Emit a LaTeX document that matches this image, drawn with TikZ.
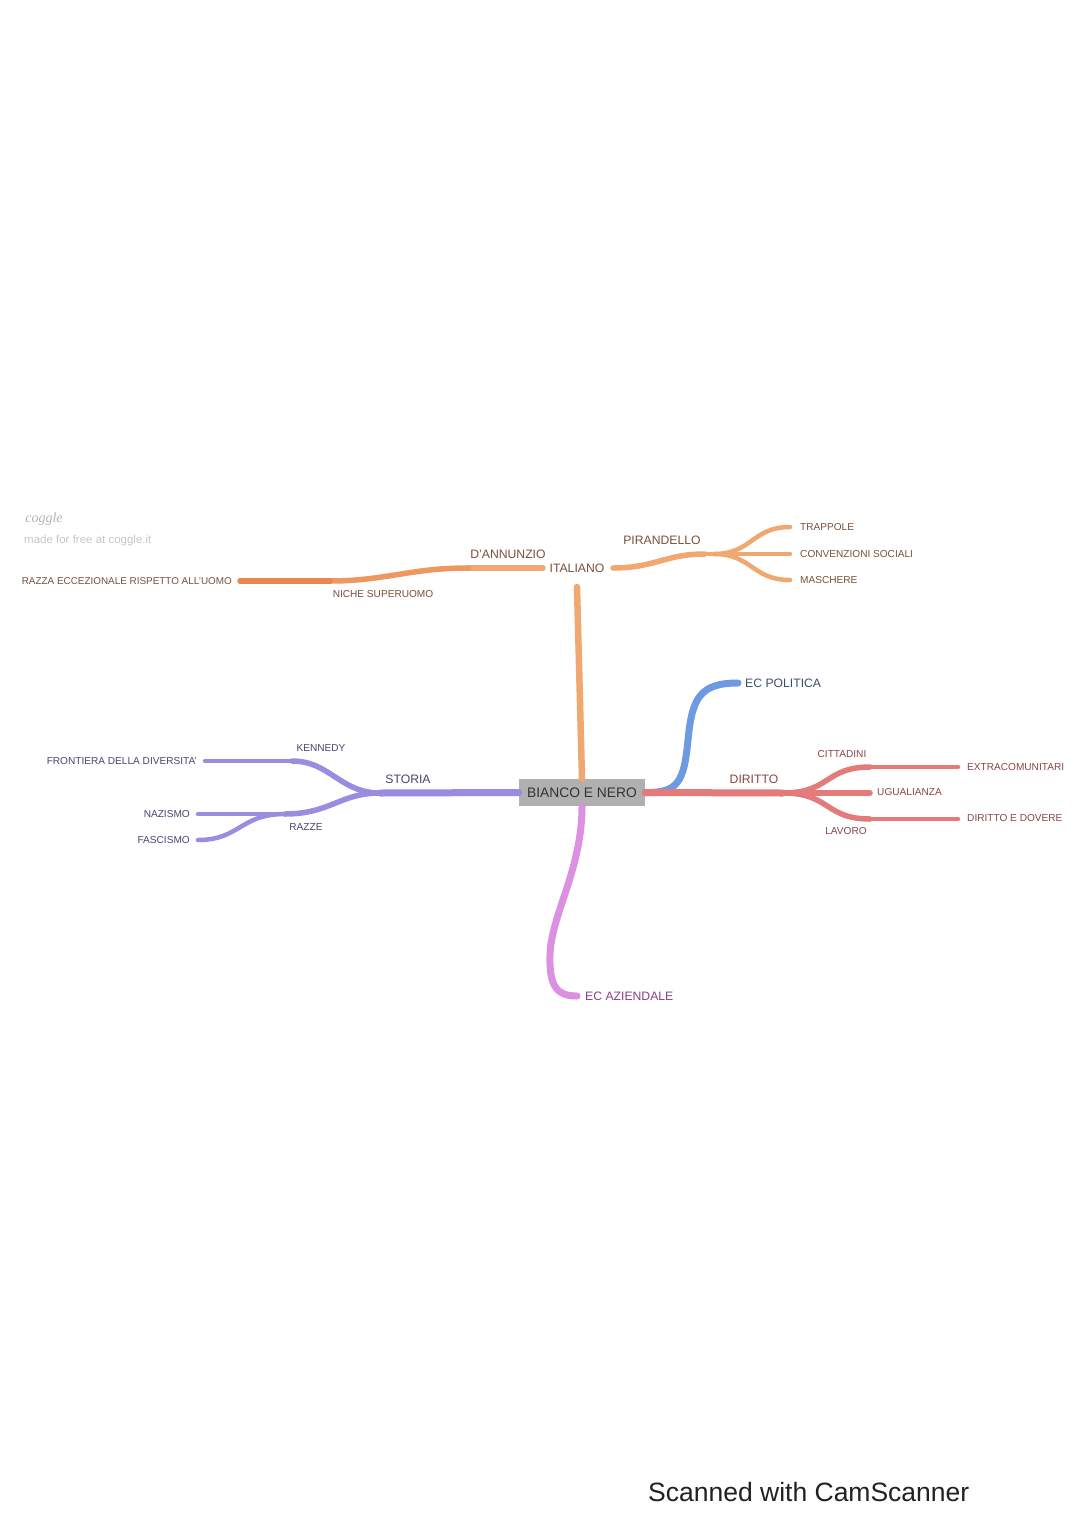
\documentclass[tikz,border=0pt]{standalone}
\usepackage{fontspec}
\setmainfont{Liberation Sans}
\newfontfamily\serifit{Liberation Serif}
\definecolor{orL}{HTML}{F0A870}
\definecolor{orM}{HTML}{EC9860}
\definecolor{orD}{HTML}{E8874E}
\definecolor{pu}{HTML}{9B8CE2}
\definecolor{rd}{HTML}{E37B7B}
\definecolor{bl}{HTML}{6E9AE2}
\definecolor{pk}{HTML}{DC90E2}
\definecolor{torg}{HTML}{7A5038}
\definecolor{tpu}{HTML}{4B4370}
\definecolor{trd}{HTML}{8A4545}
\definecolor{tbl}{HTML}{3E4D6E}
\definecolor{tpk}{HTML}{8B3D8B}
\definecolor{boxg}{HTML}{B0B0B0}
\tikzset{
  big/.style={inner sep=0pt, font=\fontsize{12.2}{12.2}\selectfont},
  small/.style={inner sep=0pt, font=\fontsize{10.1}{10.1}\selectfont},
  lv1/.style={line width=7pt, line cap=round},
  lv2/.style={line width=5.5pt, line cap=round},
  lv3/.style={line width=4.5pt, line cap=round},
}
\begin{document}
\begin{tikzpicture}[x=1pt,y=-1pt]
\useasboundingbox[fill=white] (0,0) rectangle (1080,1528);

% watermark
\node[inner sep=0pt, text=black!30, font=\serifit\itshape\fontsize{14}{14}\selectfont] (cg) at (44,519) {coggle};
\node[inner sep=0pt, anchor=west, text=black!22, font=\fontsize{11.5}{11.5}\selectfont] (made) at (24,541) {made for free at coggle.it};

% coordinates
\coordinate (itb) at (577,587);
\coordinate (itl) at (543,568);
\coordinate (dan) at (468,568);
\coordinate (nic) at (330,581);
\coordinate (raz1) at (240,581);
\coordinate (itr) at (613,568);
\coordinate (pir) at (705,554);
\coordinate (pir2) at (714,554);
\coordinate (trp) at (790,527);
\coordinate (cnv) at (790,554);
\coordinate (msc) at (790,580);
\coordinate (sto) at (380,793);
\coordinate (ken) at (292,761);
\coordinate (fro) at (205,761);
\coordinate (rzz) at (285,814);
\coordinate (naz) at (198,814);
\coordinate (fas) at (198,840);
\coordinate (dir) at (783,793);
\coordinate (cit) at (870,767);
\coordinate (ugu) at (870,793);
\coordinate (lav) at (870,819);
\coordinate (ext) at (958,767);
\coordinate (ddv) at (958,819);
\coordinate (polm) at (688,740);
\coordinate (pol) at (738,683);
\coordinate (azm) at (550,955);
\coordinate (azi) at (577,996);

% center node
\node[fill=boxg, minimum width=126pt, minimum height=27pt, inner sep=0pt,
      text=black!80, font=\fontsize{13.8}{13.8}\selectfont] (c) at (582,792.5) {BIANCO E NERO};

% orange branch
\draw[orL, line width=6.5pt, line cap=round] (c.north) -- (itb);
\node[big, text=torg] (ita) at (577,568) {ITALIANO};
\draw[orL, lv2] (itl) -- (dan);
\draw[orM, lv2] (dan) .. controls (410,568) and (385,581) .. (nic);
\draw[orD, lv2] (nic) -- (raz1);
\node[big, text=torg] (ldan) at (508,554) {D'ANNUNZIO};
\node[small, text=torg] (lnic) at (383,594) {NICHE SUPERUOMO};
\node[small, text=torg, anchor=east, font=\fontsize{9.9}{9.9}\selectfont] (lraz) at (232,581) {RAZZA ECCEZIONALE RISPETTO ALL'UOMO};

\draw[orL, lv2] (itr) .. controls (655,568) and (665,554) .. (pir);
\node[big, text=torg] (lpir) at (662,540) {PIRANDELLO};
\draw[orL, lv3] (pir2) .. controls (752,554) and (752,527) .. (trp);
\draw[orL, lv3] (pir2) -- (cnv);
\draw[orL, lv3] (pir2) .. controls (752,554) and (752,580) .. (msc);
\draw[orL, lv3] (pir) -- (pir2);
\node[small, text=torg, anchor=west] (ltrp) at (800,527.5) {TRAPPOLE};
\node[small, text=torg, anchor=west] (lcnv) at (800,554) {CONVENZIONI SOCIALI};
\node[small, text=torg, anchor=west] (lmsc) at (800,580) {MASCHERE};

% purple branch
\draw[pu, lv1] (c.west) -- (sto);
\node[big, text=tpu] (lsto) at (408,779) {STORIA};
\draw[pu, lv2] (sto) .. controls (340,793) and (330,761) .. (ken);
\draw[pu, lv2] (sto) .. controls (340,793) and (330,814) .. (rzz);
\node[small, text=tpu] (lken) at (321,748) {KENNEDY};
\node[small, text=tpu] (lrzz) at (306,827) {RAZZE};
\draw[pu, lv3] (ken) -- (fro);
\draw[pu, lv3] (rzz) -- (naz);
\draw[pu, lv3] (rzz) .. controls (240,814) and (240,840) .. (fas);
\node[small, text=tpu, anchor=east] (lfro) at (197,761) {FRONTIERA DELLA DIVERSITA'};
\node[small, text=tpu, anchor=east] (lnaz) at (190,814) {NAZISMO};
\node[small, text=tpu, anchor=east] (lfas) at (190,840) {FASCISMO};

% blue branch
\draw[bl, lv1] (c.east) .. controls (678,793) and (684,782) .. (polm)
   .. controls (692,698) and (700,683) .. (pol);
\node[big, text=tbl, anchor=west] (lpol) at (745,683) {EC POLITICA};

% red branch
\draw[rd, lv1] (c.east) -- (dir);
\node[big, text=trd] (ldir) at (754,779) {DIRITTO};
\draw[rd, lv2] (dir) .. controls (830,793) and (825,767) .. (cit);
\draw[rd, lv2] (dir) -- (ugu);
\draw[rd, lv2] (dir) .. controls (830,793) and (825,819) .. (lav);
\draw[rd, lv3] (cit) -- (ext);
\draw[rd, lv3] (lav) -- (ddv);
\node[small, text=trd] (lcit) at (842,754) {CITTADINI};
\node[small, text=trd, anchor=west] (lugu) at (877,792) {UGUALIANZA};
\node[small, text=trd] (llav) at (846,831) {LAVORO};
\node[small, text=trd, anchor=west] (lext) at (967,767) {EXTRACOMUNITARI};
\node[small, text=trd, anchor=west] (lddv) at (967,818) {DIRITTO E DOVERE};

% pink branch
\draw[pk, lv1] (c.south) .. controls (582,870) and (551,915) .. (azm)
   .. controls (549,988) and (558,996) .. (azi);
\node[big, text=tpk, anchor=west] (lazi) at (585,996) {EC AZIENDALE};

% scanner footer
\node[inner sep=0pt, anchor=west, text=black!87, font=\fontsize{26.5}{26.5}\selectfont] (scan) at (648,1492) {Scanned with CamScanner};
\end{tikzpicture}
\end{document}
